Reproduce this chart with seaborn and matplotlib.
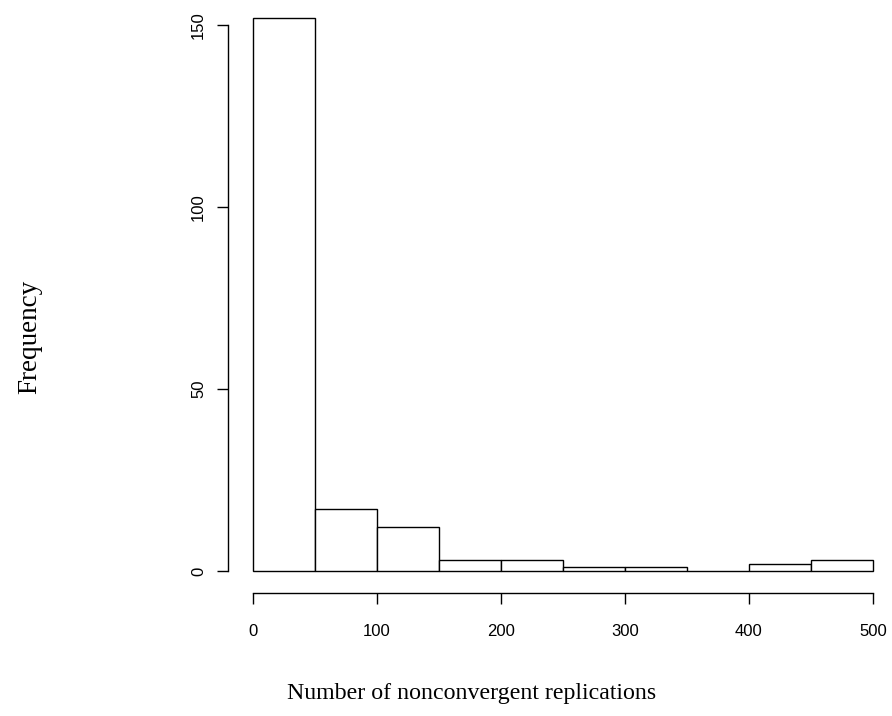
import matplotlib
matplotlib.use("Agg")
import matplotlib.pyplot as plt
import seaborn as sns
import numpy as np
import pandas as pd

bin_edges = [0, 50, 100, 150, 200, 250, 300, 350, 400, 450, 500]
counts = [152, 17, 12, 3, 3, 1, 1, 0, 2, 3]
x_ticks = [0, 100, 200, 300, 400, 500]
y_ticks = [0, 50, 100, 150]

mids = [(a + b) / 2 for a, b in zip(bin_edges[:-1], bin_edges[1:])]
df = pd.DataFrame({"value": mids, "count": counts})

sns.set_style("white")
plt.rcParams["font.family"] = ["Liberation Sans", "DejaVu Sans"]
plt.rcParams["text.color"] = "black"

fig = plt.figure(figsize=(8.92, 7.16), dpi=100)
ax = fig.add_axes([228.2 / 892, 1 - 593.1 / 716, (897.8 - 228.2) / 892, (593.1 + 4.4) / 716])

sns.histplot(data=df, x="value", weights="count", bins=bin_edges, ax=ax,
             color="white", edgecolor="black", linewidth=1.0, alpha=1.0)

ax.set_xlim(-20, 520)
ax.set_ylim(-6.08, 158.08)
ax.set_xlabel("")
ax.set_ylabel("")
for s in ["top", "right"]:
    ax.spines[s].set_visible(False)
ax.spines["left"].set_bounds(0, 150)
ax.spines["bottom"].set_bounds(0, 500)
for s in ["left", "bottom"]:
    ax.spines[s].set_color("black")
    ax.spines[s].set_linewidth(1.0)
ax.set_xticks(x_ticks)
ax.set_yticks(y_ticks)
ax.set_yticklabels([str(v) for v in y_ticks], rotation=90, va="center")
ax.tick_params(axis="x", bottom=True, direction="out", length=8, width=1, pad=14,
               labelsize=12, colors="black")
ax.tick_params(axis="y", left=True, direction="out", length=8, width=1, pad=8,
               labelsize=12, colors="black")
ax.grid(False)

fig.text(472 / 892, 1 - 693 / 716, "Number of nonconvergent replications",
         ha="center", va="center", fontsize=17.2, color="black",
         family=["Liberation Serif", "DejaVu Serif"])
fig.text(30 / 892, 1 - 337 / 716, "Frequency", ha="center", va="center", rotation=90,
         fontsize=19.5, color="black", family=["Liberation Serif", "DejaVu Serif"])

fig.savefig("out.png", dpi=100)
